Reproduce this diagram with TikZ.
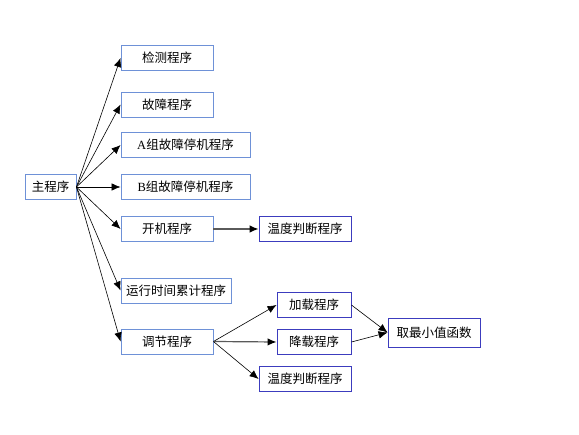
\documentclass[tikz,border=0pt]{standalone}
\usepackage{fontspec}
\setmainfont{Liberation Serif}
\newfontfamily\cjk{Noto Sans CJK SC}
\usetikzlibrary{arrows.meta}
\definecolor{boxlight}{RGB}{110,145,215}
\definecolor{boxdark}{RGB}{60,60,190}
\definecolor{linegray}{RGB}{90,90,90}
\tikzset{
	prog/.style={draw=boxlight, line width=0.9pt, fill=white, inner sep=0pt, minimum height=25, font=\cjk\fontsize{12.5}{14}\selectfont},
	subprog/.style={prog, draw=boxdark},
	call/.style={-{Latex[length=9pt,width=7.5pt,color=black]}, line width=0.6pt},
	grayline/.style={draw=linegray, line width=1.2pt}
}

\begin{document}
\begin{tikzpicture}[x=1pt, y=-1pt]
		%%%%% START %%%%%
		\useasboundingbox (0, 0) rectangle (579, 435);
		
		\node[prog, minimum width=51] (main) at (50.5, 187) {主程序};
		
		\node[prog, minimum width=92] (detect) at (167, 58) {检测程序};
		\node[prog, minimum width=92] (fault) at (167, 104.5) {故障程序};
		\node[prog, minimum width=129] (faulta) at (185.5, 145) {\textrm{A}组故障停机程序};
		\node[prog, minimum width=129] (faultb) at (185.5, 187) {\textrm{B}组故障停机程序};
		\node[prog, minimum width=92] (start) at (167, 229) {开机程序};
		\node[prog, minimum width=110] (runtime) at (176, 290.5) {运行时间累计程序};
		\node[prog, minimum width=92] (adjust) at (167, 341.5) {调节程序};
		
		\node[subprog, minimum width=92] (tempa) at (305, 229) {温度判断程序};
		\node[subprog, minimum width=74] (load) at (314, 305) {加载程序};
		\node[subprog, minimum width=74] (unload) at (314, 342) {降载程序};
		\node[subprog, minimum width=92] (tempb) at (305, 379) {温度判断程序};
		\node[subprog, minimum width=92, minimum height=29] (minval) at (434, 332.5) {取最小值函数};
		
		% main program calls
		\draw[call] (main.east) -- (detect.west);
		\draw[call] (main.east) -- (fault.west);
		\draw[call] (main.east) -- (faulta.west);
		\draw[call] (main.east) -- (faultb.west);
		\draw[call] (main.east) -- (start.west);
		\draw[call] (main.east) -- (runtime.west);
		\draw[call] (main.east) -- (adjust.west);
		
		\draw[call, grayline] (start.east) -- (tempa.west);
		
		\draw[call] (adjust.east) -- (load.west);
		\draw[call, grayline] (adjust.east) -- (unload.west);
		\draw[call] (adjust.east) -- (tempb.west);
		
		\draw[call] (load.east) -- (minval.west);
		\draw[call] (unload.east) -- (minval.west);
		
		%%%%% END %%%%%
	\end{tikzpicture}
\end{document}
